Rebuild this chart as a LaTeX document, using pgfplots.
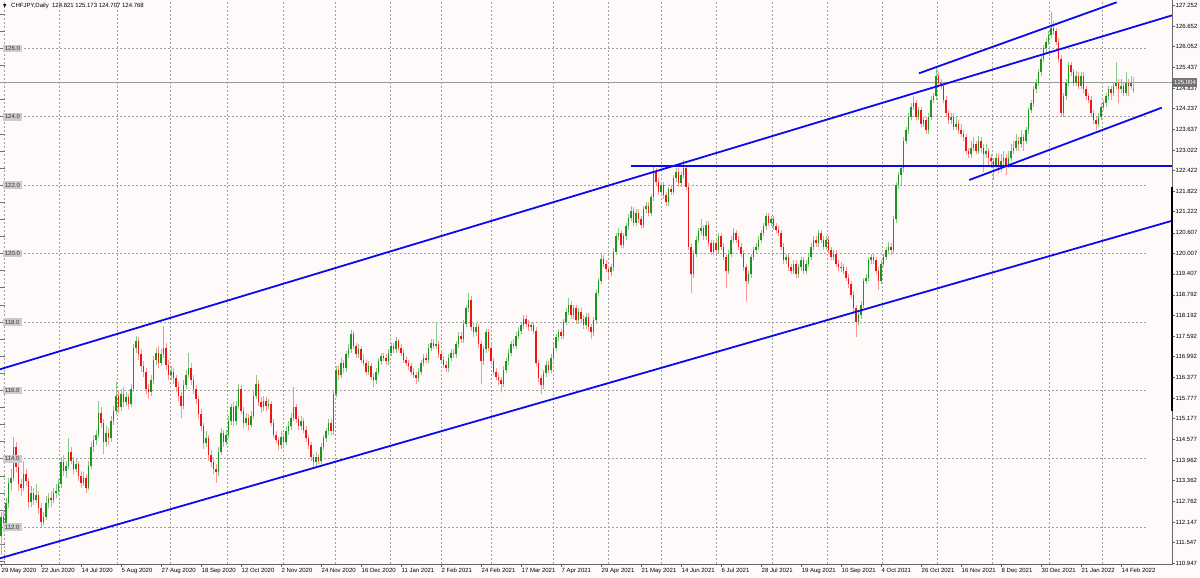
\documentclass[border=0pt]{standalone}
\usepackage{fontspec}
\setmainfont{Liberation Sans}
\newfontfamily\dejavu{DejaVu Sans}
\usepackage{pgfplots}
\pgfplotsset{compat=1.18}
\usepackage{pgfplotstable}
\definecolor{bg}{HTML}{FFFAFA}
\definecolor{bodyup}{HTML}{1A961A}
\definecolor{wickup}{HTML}{8CC88C}
\definecolor{bodydn}{HTML}{F01414}
\definecolor{wickdn}{HTML}{FF9696}
\definecolor{gridc}{HTML}{A0A0A0}
\definecolor{lblgray}{HTML}{CCCCCC}
\definecolor{chblue}{HTML}{0A0AF0}

\pgfplotsset{candle/.style={only marks, mark=*, mark size=0pt, mark options={draw=none, fill=none}, forget plot,
  error bars/.cd, y dir=plus, y explicit, error mark=none}}

\pgfplotstableread{
i O H L C
0 111.75 112.45 111.20 112.30
1 112.30 112.50 111.90 112.05
2 112.05 112.85 111.95 112.70
3 112.70 113.45 112.55 113.30
4 113.30 113.70 113.10 113.45
5 113.45 114.65 113.35 114.35
6 114.35 114.50 113.60 113.75
7 113.75 113.90 113.05 113.25
8 113.25 113.40 112.90 113.15
9 113.15 113.95 113.05 113.55
10 113.55 113.70 113.20 113.35
11 113.35 113.45 112.55 112.75
12 112.75 113.20 112.60 113.00
13 113.00 113.15 112.65 112.80
14 112.80 113.25 112.70 112.95
15 112.95 113.05 112.40 112.55
16 112.55 112.70 112.00 112.15
17 112.15 112.45 112.05 112.30
18 112.30 112.90 112.20 112.70
19 112.70 113.00 112.55 112.85
20 112.85 113.05 112.60 112.80
21 112.80 113.15 112.70 113.00
22 113.00 113.25 112.85 113.05
23 113.05 113.40 112.95 113.25
24 113.25 114.05 113.15 113.90
25 113.90 114.10 113.50 113.65
26 113.65 113.95 113.45 113.80
27 113.80 114.60 113.70 114.20
28 114.20 114.35 113.85 113.95
29 113.95 114.05 113.55 113.70
30 113.70 114.00 113.60 113.85
31 113.85 113.95 113.35 113.50
32 113.50 113.65 113.15 113.30
33 113.30 113.60 113.20 113.45
34 113.45 113.55 113.00 113.15
35 113.15 113.95 113.10 113.80
36 113.80 114.50 113.70 114.35
37 114.35 114.70 114.20 114.55
38 114.55 114.85 114.40 114.70
39 114.70 115.70 114.60 115.35
40 115.35 115.50 114.90 115.05
41 115.05 115.15 114.15 114.50
42 114.50 114.95 114.35 114.75
43 114.75 114.90 114.40 114.60
44 114.60 115.25 114.50 115.10
45 115.10 115.55 115.00 115.40
46 115.40 116.25 115.30 115.85
47 115.85 116.00 115.35 115.50
48 115.50 116.05 115.40 115.90
49 115.90 116.10 115.50 115.65
50 115.65 115.95 115.55 115.80
51 115.80 115.90 115.45 115.60
52 115.60 116.20 115.50 116.05
53 116.05 117.35 115.95 117.25
54 117.25 117.60 117.10 117.45
55 117.45 117.55 116.90 117.05
56 117.05 117.20 116.55 116.70
57 116.70 116.85 116.40 116.55
58 116.55 116.65 115.90 116.05
59 116.05 116.20 115.75 115.95
60 115.95 116.45 115.85 116.30
61 116.30 117.00 116.20 116.90
62 116.90 117.25 116.75 117.10
63 117.10 117.30 116.65 116.80
64 116.80 117.20 116.70 117.05
65 117.05 117.88 116.95 117.25
66 117.25 117.40 116.60 116.75
67 116.75 116.90 116.30 116.45
68 116.45 116.70 116.30 116.55
69 116.55 116.65 116.20 116.35
70 116.35 116.45 115.95 116.10
71 116.10 116.25 115.70 115.85
72 115.85 115.95 115.20 115.55
73 115.55 116.30 115.45 116.15
74 116.15 116.60 116.05 116.45
75 116.45 117.10 116.35 116.65
76 116.65 116.80 116.15 116.30
77 116.30 116.45 115.90 116.05
78 116.05 116.15 115.60 115.75
79 115.75 115.85 115.15 115.30
80 115.30 115.45 114.80 114.95
81 114.95 115.05 114.30 114.45
82 114.45 114.80 114.35 114.60
83 114.60 114.70 113.95 114.10
84 114.10 114.25 113.75 113.90
85 113.90 114.05 113.55 113.70
86 113.70 113.85 113.30 113.60
87 113.60 114.35 113.50 114.20
88 114.20 114.90 114.10 114.75
89 114.75 114.85 114.35 114.50
90 114.50 114.85 114.40 114.70
91 114.70 115.25 114.60 115.10
92 115.10 115.60 115.00 115.50
93 115.50 115.65 114.95 115.10
94 115.10 115.70 115.00 115.55
95 115.55 116.20 115.45 116.05
96 116.05 116.15 115.30 115.40
97 115.40 115.50 114.90 115.05
98 115.05 115.35 114.95 115.20
99 115.20 115.30 114.85 115.00
100 115.00 115.40 114.90 115.25
101 115.25 116.00 115.15 115.85
102 115.85 116.45 115.75 116.20
103 116.20 116.30 115.55 115.65
104 115.65 115.80 115.35 115.50
105 115.50 115.85 115.40 115.70
106 115.70 115.80 115.40 115.55
107 115.55 115.75 115.45 115.60
108 115.60 115.70 114.95 115.05
109 115.05 115.15 114.60 114.70
110 114.70 114.80 114.45 114.55
111 114.55 114.65 114.25 114.40
112 114.40 114.80 114.30 114.65
113 114.65 114.75 114.35 114.50
114 114.50 114.95 114.40 114.80
115 114.80 115.10 114.70 114.95
116 114.95 115.35 114.85 115.20
117 115.20 116.10 115.10 115.50
118 115.50 115.60 115.05 115.15
119 115.15 115.25 114.85 114.95
120 114.95 115.25 114.85 115.10
121 115.10 115.20 114.75 114.85
122 114.85 114.95 114.50 114.60
123 114.60 114.70 114.30 114.40
124 114.40 114.50 113.95 114.05
125 114.05 114.15 113.75 113.90
126 113.90 114.20 113.80 114.05
127 114.05 114.15 113.85 113.95
128 113.95 114.45 113.85 114.35
129 114.35 114.70 114.25 114.60
130 114.60 114.90 114.50 114.80
131 114.80 115.15 114.70 115.05
132 115.05 115.15 114.70 114.80
133 114.80 116.00 114.70 115.90
134 115.90 116.70 115.80 116.60
135 116.60 116.75 116.30 116.45
136 116.45 116.95 116.35 116.80
137 116.80 116.90 116.50 116.65
138 116.65 117.15 116.55 117.05
139 117.05 117.35 116.95 117.20
140 117.20 117.78 117.10 117.65
141 117.65 117.75 117.20 117.30
142 117.30 117.40 116.95 117.05
143 117.05 117.35 116.95 117.20
144 117.20 117.30 116.80 116.90
145 116.90 117.05 116.70 116.80
146 116.80 116.90 116.45 116.55
147 116.55 116.85 116.45 116.70
148 116.70 116.80 116.30 116.40
149 116.40 116.50 116.10 116.30
150 116.30 116.65 116.20 116.55
151 116.55 116.95 116.45 116.85
152 116.85 117.10 116.75 117.00
153 117.00 117.10 116.85 116.95
154 116.95 117.05 116.75 116.85
155 116.85 117.20 116.75 117.10
156 117.10 117.40 117.00 117.30
157 117.30 117.40 117.10 117.20
158 117.20 117.55 117.10 117.45
159 117.45 117.50 117.15 117.25
160 117.25 117.35 117.00 117.10
161 117.10 117.20 116.80 116.90
162 116.90 117.00 116.70 116.80
163 116.80 116.90 116.60 116.70
164 116.70 116.80 116.45 116.55
165 116.55 116.65 116.35 116.45
166 116.45 116.55 116.20 116.35
167 116.35 116.65 116.25 116.55
168 116.55 116.90 116.45 116.80
169 116.80 117.05 116.70 116.95
170 116.95 117.10 116.80 116.90
171 116.90 117.35 116.80 117.25
172 117.25 117.50 117.15 117.40
173 117.40 117.50 117.20 117.30
174 117.30 118.00 117.20 117.35
175 117.35 117.45 116.95 117.05
176 117.05 117.15 116.80 116.90
177 116.90 117.00 116.65 116.75
178 116.75 116.85 116.55 116.65
179 116.65 117.05 116.55 116.95
180 116.95 117.20 116.85 117.10
181 117.10 117.20 116.95 117.05
182 117.05 117.45 116.95 117.35
183 117.35 117.70 117.25 117.60
184 117.60 117.70 117.40 117.50
185 117.50 118.05 117.40 117.95
186 117.95 118.50 117.85 118.40
187 118.40 118.85 118.30 118.65
188 118.65 118.75 117.75 117.85
189 117.85 118.00 117.55 117.70
190 117.70 118.00 117.60 117.85
191 117.85 117.95 117.25 117.35
192 117.35 117.45 116.20 116.85
193 116.85 117.30 116.75 117.20
194 117.20 117.80 117.10 117.70
195 117.70 117.80 117.15 117.25
196 117.25 117.35 116.75 116.85
197 116.85 116.95 116.45 116.55
198 116.55 116.65 116.30 116.40
199 116.40 116.50 116.15 116.30
200 116.30 116.40 115.95 116.20
201 116.20 116.70 116.10 116.60
202 116.60 116.95 116.50 116.85
203 116.85 117.20 116.75 117.10
204 117.10 117.45 117.00 117.35
205 117.35 117.50 117.20 117.30
206 117.30 117.70 117.20 117.60
207 117.60 117.85 117.50 117.75
208 117.75 118.00 117.65 117.90
209 117.90 118.20 117.80 118.10
210 118.10 118.20 117.85 117.95
211 117.95 118.05 117.75 117.85
212 117.85 118.00 117.75 117.90
213 117.90 118.00 117.65 117.75
214 117.75 117.85 116.70 116.80
215 116.80 116.90 116.25 116.35
216 116.35 116.45 115.90 116.15
217 116.15 116.60 116.05 116.50
218 116.50 116.85 116.40 116.75
219 116.75 116.85 116.50 116.60
220 116.60 117.05 116.50 116.95
221 116.95 117.35 116.85 117.25
222 117.25 117.65 117.15 117.55
223 117.55 117.80 117.45 117.70
224 117.70 117.80 117.50 117.60
225 117.60 118.10 117.50 118.00
226 118.00 118.40 117.90 118.30
227 118.30 118.70 118.20 118.50
228 118.50 118.60 118.10 118.20
229 118.20 118.50 118.10 118.40
230 118.40 118.50 117.95 118.05
231 118.05 118.40 117.95 118.30
232 118.30 118.40 118.00 118.10
233 118.10 118.20 117.80 117.90
234 117.90 118.25 117.80 118.15
235 118.15 118.25 117.75 117.85
236 117.85 117.95 117.50 117.70
237 117.70 118.15 117.60 118.05
238 118.05 118.95 117.95 118.85
239 118.85 119.30 118.75 119.20
240 119.20 120.00 119.10 119.85
241 119.85 119.95 119.60 119.70
242 119.70 119.80 119.45 119.55
243 119.55 119.65 119.25 119.45
244 119.45 119.70 119.35 119.60
245 119.60 120.15 119.50 120.05
246 120.05 120.60 119.95 120.50
247 120.50 120.75 120.40 120.60
248 120.60 120.70 120.15 120.25
249 120.25 120.60 120.15 120.50
250 120.50 120.90 120.40 120.80
251 120.80 121.15 120.70 121.05
252 121.05 121.40 120.95 121.25
253 121.25 121.35 120.80 120.90
254 120.90 121.30 120.80 121.20
255 121.20 121.30 120.90 121.00
256 121.00 121.10 120.75 120.85
257 120.85 121.40 120.75 121.30
258 121.30 121.50 121.20 121.40
259 121.40 121.50 121.10 121.20
260 121.20 121.75 121.10 121.65
261 121.65 122.55 121.55 122.40
262 122.40 122.50 122.00 122.10
263 122.10 122.20 121.70 121.80
264 121.80 122.10 121.70 122.00
265 122.00 122.10 121.60 121.70
266 121.70 121.80 121.40 121.50
267 121.50 121.95 121.40 121.90
268 121.90 122.00 121.70 121.80
269 121.80 122.30 121.70 122.20
270 122.20 122.50 122.10 122.40
271 122.40 122.50 121.95 122.05
272 122.05 122.40 121.95 122.30
273 122.30 122.74 122.20 122.50
274 122.50 122.60 121.85 121.95
275 121.95 122.05 120.10 120.20
276 120.20 120.30 118.84 119.40
277 119.40 120.10 119.30 120.00
278 120.00 120.50 119.90 120.40
279 120.40 120.75 120.30 120.65
280 120.65 121.00 120.55 120.75
281 120.75 120.85 120.40 120.50
282 120.50 120.95 120.40 120.85
283 120.85 120.95 120.20 120.30
284 120.30 120.40 119.95 120.05
285 120.05 120.40 119.95 120.30
286 120.30 120.40 120.00 120.10
287 120.10 120.60 120.00 120.50
288 120.50 120.60 120.10 120.20
289 120.20 120.30 119.80 119.90
290 119.90 120.00 119.00 119.50
291 119.50 120.10 119.40 120.00
292 120.00 120.50 119.90 120.40
293 120.40 120.75 120.30 120.60
294 120.60 120.70 120.30 120.40
295 120.40 120.50 120.10 120.20
296 120.20 120.30 119.90 120.00
297 120.00 120.10 119.50 119.60
298 119.60 119.70 118.60 119.20
299 119.20 119.50 119.10 119.40
300 119.40 120.00 119.30 119.90
301 119.90 120.20 119.80 120.10
302 120.10 120.30 120.00 120.20
303 120.20 120.50 120.10 120.40
304 120.40 120.70 120.30 120.60
305 120.60 120.90 120.50 120.80
306 120.80 121.20 120.70 121.10
307 121.10 121.20 120.80 120.90
308 120.90 121.10 120.80 121.00
309 121.00 121.10 120.70 120.80
310 120.80 120.90 120.60 120.70
311 120.70 120.80 120.50 120.60
312 120.60 120.70 120.10 120.20
313 120.20 120.30 119.70 119.80
314 119.80 120.00 119.70 119.90
315 119.90 120.00 119.50 119.60
316 119.60 119.70 119.40 119.50
317 119.50 119.80 119.40 119.70
318 119.70 119.80 119.30 119.40
319 119.40 119.70 119.30 119.60
320 119.60 119.90 119.50 119.80
321 119.80 119.90 119.40 119.50
322 119.50 119.80 119.40 119.70
323 119.70 120.00 119.60 119.90
324 119.90 120.30 119.80 120.20
325 120.20 120.50 120.10 120.40
326 120.40 120.50 120.20 120.30
327 120.30 120.70 120.20 120.60
328 120.60 120.70 120.30 120.40
329 120.40 120.50 120.10 120.20
330 120.20 120.50 120.10 120.40
331 120.40 120.50 120.00 120.10
332 120.10 120.20 119.80 119.90
333 119.90 120.10 119.80 120.00
334 120.00 120.10 119.60 119.70
335 119.70 119.80 119.50 119.60
336 119.60 119.75 119.45 119.62
337 119.62 119.70 119.40 119.50
338 119.50 119.60 119.20 119.30
339 119.30 119.40 119.00 119.10
340 119.10 119.20 118.70 118.80
341 118.80 118.90 118.30 118.40
342 118.40 118.50 117.57 118.00
343 118.00 118.30 117.90 118.20
344 118.20 118.60 118.10 118.50
345 118.50 119.30 118.40 119.20
346 119.20 119.40 119.10 119.30
347 119.30 119.90 119.20 119.80
348 119.80 120.00 119.70 119.90
349 119.90 120.00 119.70 119.80
350 119.80 119.90 119.40 119.50
351 119.50 119.60 118.95 119.20
352 119.20 119.80 119.10 119.70
353 119.70 120.00 119.60 119.90
354 119.90 120.20 119.80 120.10
355 120.10 120.35 120.00 120.20
356 120.20 120.30 119.95 120.10
357 120.10 121.10 120.00 121.00
358 121.00 122.10 120.90 122.00
359 122.00 122.40 121.90 122.30
360 122.30 122.60 122.00 122.50
361 122.50 123.40 122.40 123.30
362 123.30 123.70 123.20 123.60
363 123.60 124.10 123.50 124.00
364 124.00 124.40 123.90 124.30
365 124.30 124.60 124.20 124.40
366 124.40 124.50 123.90 124.00
367 124.00 124.30 123.90 124.20
368 124.20 124.30 123.70 123.80
369 123.80 124.00 123.70 123.90
370 123.90 124.00 123.50 123.60
371 123.60 124.10 123.50 124.00
372 124.00 124.60 123.90 124.50
373 124.50 124.70 124.40 124.60
374 124.60 125.42 124.50 125.20
375 125.20 125.30 124.90 125.00
376 125.00 125.10 124.80 124.90
377 124.90 125.00 124.40 124.50
378 124.50 124.60 124.00 124.10
379 124.10 124.20 123.80 123.90
380 123.90 124.10 123.80 124.00
381 124.00 124.10 123.60 123.70
382 123.70 124.00 123.60 123.80
383 123.80 123.90 123.50 123.60
384 123.60 123.80 123.40 123.50
385 123.50 123.60 123.30 123.40
386 123.40 123.50 122.90 123.00
387 123.00 123.10 122.80 122.90
388 122.90 123.30 122.80 123.10
389 123.10 123.40 123.00 123.20
390 123.20 123.30 122.90 123.00
391 123.00 123.45 122.90 123.30
392 123.30 123.40 122.95 123.10
393 123.10 123.20 122.40 122.90
394 122.90 123.20 122.80 123.00
395 123.00 123.10 122.60 122.80
396 122.80 122.90 122.50 122.70
397 122.70 122.80 122.15 122.60
398 122.60 122.95 122.50 122.80
399 122.80 122.90 122.35 122.60
400 122.60 122.90 122.40 122.70
401 122.70 123.00 122.60 122.80
402 122.80 122.90 122.30 122.60
403 122.60 123.00 122.50 122.80
404 122.80 123.20 122.70 123.00
405 123.00 123.30 122.90 123.10
406 123.10 123.50 123.00 123.30
407 123.30 123.40 123.00 123.20
408 123.20 123.60 123.10 123.40
409 123.40 123.50 123.00 123.30
410 123.30 123.70 123.20 123.60
411 123.60 124.30 123.50 124.20
412 124.20 124.50 124.10 124.40
413 124.40 124.90 124.30 124.80
414 124.80 125.10 124.70 125.00
415 125.00 125.40 124.90 125.30
416 125.30 125.80 125.20 125.70
417 125.70 126.10 125.60 126.00
418 126.00 126.30 125.90 126.20
419 126.20 126.50 126.10 126.40
420 126.40 127.07 126.30 126.60
421 126.60 126.80 126.40 126.50
422 126.50 126.60 126.10 126.20
423 126.20 126.30 125.60 125.70
424 125.70 125.80 124.00 124.10
425 124.10 124.70 124.00 124.60
426 124.60 125.10 124.50 125.00
427 125.00 125.60 124.90 125.50
428 125.50 125.60 125.20 125.30
429 125.30 125.40 124.90 125.00
430 125.00 125.35 124.90 125.20
431 125.20 125.30 124.80 124.90
432 124.90 125.30 124.80 125.20
433 125.20 125.30 124.70 124.80
434 124.80 124.90 124.50 124.60
435 124.60 124.70 124.40 124.50
436 124.50 124.60 124.00 124.10
437 124.10 124.20 123.80 123.90
438 123.90 124.00 123.60 123.80
439 123.80 124.10 123.70 124.00
440 124.00 124.40 123.90 124.30
441 124.30 124.50 124.20 124.40
442 124.40 124.70 124.30 124.60
443 124.60 124.90 124.50 124.80
444 124.80 124.90 124.50 124.70
445 124.70 125.00 124.60 124.90
446 124.90 125.60 124.80 125.00
447 125.00 125.10 124.40 124.80
448 124.80 125.10 124.70 124.90
449 124.90 125.00 124.60 124.70
450 124.70 125.30 124.60 125.00
451 125.00 125.10 124.60 124.90
452 124.90 125.20 124.80 125.00
453 124.82 125.17 124.71 124.77
}\candles

\begin{document}
\begin{tikzpicture}
\path[use as bounding box, fill=bg] (0pt,-14pt) rectangle (1200pt,564pt);
\begin{axis}[
  at={(0pt,0pt)}, anchor=south west,
  scale only axis, width=1172pt, height=564pt,
  xmin=-0.4, xmax=468.4, ymin=110.924, ymax=127.415,
  axis line style={draw=none},
  clip=true,
  tick align=outside,
  major tick length=3pt,
  tick style={color=black!60, line width=0.6pt},
  xtick pos=left,
  ytick pos=right,
  yticklabel pos=right,
  xtick={0,16,...,448},
  xticklabels={29 May 2020,22 Jun 2020,14 Jul 2020,5 Aug 2020,27 Aug 2020,18 Sep 2020,12 Oct 2020,2 Nov 2020,24 Nov 2020,16 Dec 2020,11 Jan 2021,2 Feb 2021,24 Feb 2021,17 Mar 2021,7 Apr 2021,29 Apr 2021,21 May 2021,14 Jun 2021,6 Jul 2021,28 Jul 2021,19 Aug 2021,10 Sep 2021,4 Oct 2021,26 Oct 2021,16 Nov 2021,8 Dec 2021,30 Dec 2021,21 Jan 2022,14 Feb 2022},
  xticklabel style={font=\fontsize{6}{7}\selectfont, anchor=north west, inner sep=0pt, xshift=0.5pt, yshift=-1pt},
  ytick={110.947,111.547,112.147,112.762,113.362,113.962,114.577,115.177,115.777,116.377,116.992,117.592,118.192,118.792,119.407,120.007,120.607,121.222,121.822,122.422,123.022,123.637,124.237,124.837,125.437,126.052,126.652,127.252},
  yticklabels={110.947,111.547,112.147,112.762,113.362,113.962,114.577,115.177,115.777,116.377,116.992,117.592,118.192,118.792,119.407,120.007,120.607,121.222,121.822,122.422,123.022,123.637,124.237,124.837,125.437,126.052,126.652,127.252},
  yticklabel style={font=\fontsize{6}{7}\selectfont, anchor=west, inner sep=0.5pt},
]
% vertical grid (month starts)
\pgfplotsinvokeforeach{1.2,23.2,46.4,67.6,90.4,112.8,133.6,155.6,176,196,220.8,242.8,264,286,308.4,330.4,352.4,374.4,396.4,419.2,440.4}{
  \draw[gridc, line width=0.8pt, dash pattern=on 2pt off 2pt] (axis cs:#1,110.924) -- (axis cs:#1,127.415);
}
% horizontal grid
\pgfplotsinvokeforeach{112,114,...,126}{
  \draw[gridc, line width=0.8pt, dash pattern=on 2pt off 2pt] (axis cs:-0.4,#1) -- (axis cs:458.4,#1);
}
% left ruler ticks
\pgfplotsinvokeforeach{111,111.5,...,127}{
  \draw[black!55, line width=0.6pt] (axis cs:-0.4,#1) -- (axis cs:1.4,#1);
}
% current price line
\draw[black!40, line width=0.8pt] (axis cs:-0.4,125.004) -- (axis cs:468.4,125.004);

% wicks
\addplot[candle, error bar style={line width=1pt, color=wickup}]
  table[x=i, y=L, y error expr={(\thisrow{C}>=\thisrow{O})*(\thisrow{H}-\thisrow{L})}] {\candles};
\addplot[candle, error bar style={line width=1pt, color=wickdn}]
  table[x=i, y=L, y error expr={(\thisrow{C}<\thisrow{O})*(\thisrow{H}-\thisrow{L})}] {\candles};
% bodies
\addplot[candle, error bar style={line width=1.9pt, color=bodyup}]
  table[x=i, y=O, y error expr={max(\thisrow{C}-\thisrow{O},0)}] {\candles};
\addplot[candle, error bar style={line width=1.9pt, color=bodydn}]
  table[x=i, y=C, y error expr={max(\thisrow{O}-\thisrow{C},0)}] {\candles};

% left grid labels
\pgfplotsinvokeforeach{112,114,...,126}{
  \node[fill=lblgray, text=black!80, inner xsep=2.2pt, inner ysep=1.6pt, anchor=west, font=\fontsize{6}{7}\selectfont] at (axis cs:0.6,#1) {#1.0};
}

% trend lines
\draw[chblue, line width=1.8pt] (axis cs:-0.4,116.617) -- (axis cs:468.4,126.965);
\draw[chblue, line width=1.8pt] (axis cs:-0.4,111.091) -- (axis cs:468.4,120.959);
\draw[chblue, line width=1.8pt] (axis cs:367.2,125.272) -- (axis cs:446.3,127.348);
\draw[chblue, line width=1.8pt] (axis cs:252,122.56) -- (axis cs:468.4,122.56);
\draw[chblue, line width=1.8pt] (axis cs:387.3,122.152) -- (axis cs:464.3,124.266);
\end{axis}
% axis lines
\draw[black!60, line width=0.8pt] (0pt,0pt) -- (1172pt,0pt) -- (1172pt,564pt);
\draw[black, line width=2.6pt] (1172pt,153pt) -- (1172pt,377pt);
% price tag
\node[fill=black!55, text=white, anchor=west, inner xsep=1.5pt, inner ysep=2pt, font=\fontsize{6}{7}\selectfont] at (1172.5pt,481.5pt) {125.004};
% title
\node[anchor=west, inner sep=0pt, font=\dejavu\fontsize{4.5}{5}\selectfont] at (3pt,558pt) {▼};
\node[anchor=west, inner sep=0pt, font=\fontsize{6}{7}\selectfont] at (11pt,558pt) {CHFJPY,Daily\ \ 124.821 125.173 124.707 124.768};
\end{tikzpicture}
\end{document}
